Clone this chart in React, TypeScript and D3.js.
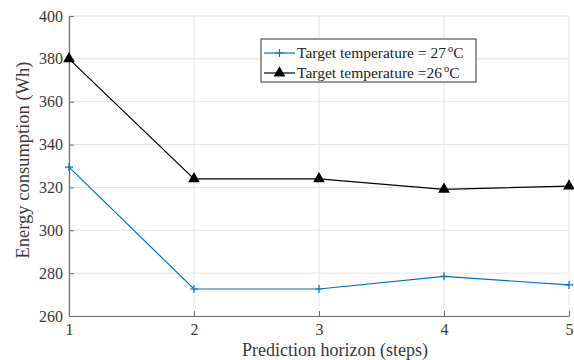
import { useEffect, useRef } from 'react';
import * as d3 from 'd3';

const horizons = [1, 2, 3, 4, 5];
const target27 = [329.5, 272.6, 272.6, 278.5, 274.5];
const target26 = [380, 324, 324, 319.1, 320.6];
const yTicks = [260, 280, 300, 320, 340, 360, 380, 400];

const FONT = 'Liberation Serif';

export default function App() {
  const svgRef = useRef<SVGSVGElement>(null);

  useEffect(() => {
    document.body.style.margin = '0';
    if (!svgRef.current) return;
    const svg = d3.select(svgRef.current);
    svg.selectAll('*').remove();

    const margin = { top: 16, right: 5, bottom: 44, left: 69 };
    const width = 574;
    const height = 360;
    const textColor = '#3a3a3a';

    const x = d3.scaleLinear().domain([1, 5]).range([margin.left, width - margin.right]);
    const y = d3.scaleLinear().domain([260, 400]).range([height - margin.bottom, margin.top]);

    svg.append('rect').attr('width', width).attr('height', height).attr('fill', '#fff');

    // grid
    const grid = svg.append('g').attr('stroke', '#e3e3e3').attr('stroke-width', 1);
    horizons.forEach((h) => {
      grid.append('line').attr('x1', x(h)).attr('x2', x(h)).attr('y1', y(260)).attr('y2', y(400));
    });
    yTicks.forEach((t) => {
      grid.append('line').attr('x1', x(1)).attr('x2', x(5)).attr('y1', y(t)).attr('y2', y(t));
    });

    // axes
    const yAxis = svg
      .append('g')
      .attr('transform', `translate(${x(1)},0)`)
      .call(d3.axisLeft(y).tickValues(yTicks).tickSize(-5).tickPadding(6).tickSizeOuter(0));
    const xAxis = svg
      .append('g')
      .attr('transform', `translate(0,${y(260)})`)
      .call(d3.axisBottom(x).tickValues(horizons).tickFormat(d3.format('d')).tickSize(-5).tickPadding(8).tickSizeOuter(0));
    [xAxis, yAxis].forEach((a) => {
      a.attr('font-family', null).attr('font-size', null);
      a.select('.domain').attr('stroke', '#707070').attr('stroke-width', 1.2);
      a.selectAll('.tick line').attr('stroke', '#707070');
      a.selectAll('.tick text').attr('fill', textColor).attr('font-family', FONT).attr('font-size', 16);
    });

    // axis titles
    svg
      .append('text')
      .attr('x', 335)
      .attr('y', 356)
      .attr('text-anchor', 'middle')
      .attr('fill', textColor)
      .attr('font-family', FONT)
      .attr('font-size', 18)
      .text('Prediction horizon (steps)');
    svg
      .append('text')
      .attr('transform', 'translate(29,160) rotate(-90)')
      .attr('text-anchor', 'middle')
      .attr('fill', textColor)
      .attr('font-family', FONT)
      .attr('font-size', 18.5)
      .text('Energy consumption (Wh)');

    const line = d3
      .line<number>()
      .x((_, i) => x(horizons[i]))
      .y((d) => y(d));

    // 27 C series
    svg.append('path').datum(target27).attr('fill', 'none').attr('stroke', '#0072BD').attr('stroke-width', 1.2).attr('d', line);
    target27.forEach((v, i) => {
      const cx = x(horizons[i]);
      const cy = y(v);
      svg
        .append('path')
        .attr('d', `M${cx - 4},${cy}H${cx + 4}M${cx},${cy - 4}V${cy + 4}`)
        .attr('stroke', '#0072BD')
        .attr('stroke-width', 1.2);
    });

    // 26 C series
    svg.append('path').datum(target26).attr('fill', 'none').attr('stroke', '#000').attr('stroke-width', 1.2).attr('d', line);
    const tri = d3.symbol().type(d3.symbolTriangle).size(60);
    target26.forEach((v, i) => {
      svg
        .append('path')
        .attr('d', tri)
        .attr('transform', `translate(${x(horizons[i])},${y(v)})`)
        .attr('fill', '#000');
    });

    // legend
    const lg = svg.append('g').attr('transform', 'translate(261,39)');
    lg.append('rect').attr('width', 215).attr('height', 43).attr('fill', '#fff').attr('stroke', '#333').attr('stroke-width', 1);
    const entries = [
      { label: 'Target temperature = 27', color: '#0072BD', marker: 'cross' },
      { label: 'Target temperature =26', color: '#000', marker: 'tri' },
    ];
    entries.forEach((e, i) => {
      const cy = 14 + i * 20;
      lg.append('line').attr('x1', 3).attr('x2', 34).attr('y1', cy).attr('y2', cy).attr('stroke', e.color).attr('stroke-width', 1.2);
      if (e.marker === 'cross') {
        lg.append('path')
          .attr('d', `M14.5,${cy}H22.5M18.5,${cy - 4}V${cy + 4}`)
          .attr('stroke', e.color)
          .attr('stroke-width', 1.2);
      } else {
        lg.append('path').attr('d', tri).attr('transform', `translate(18.5,${cy})`).attr('fill', e.color);
      }
      const t = lg
        .append('text')
        .attr('x', 36)
        .attr('y', cy + 5)
        .attr('fill', '#222')
        .attr('font-family', FONT)
        .attr('font-size', 15.5);
      t.append('tspan').text(e.label);
      t.append('tspan').attr('dx', 2).attr('dy', -6).attr('font-size', 10.5).text('o');
      t.append('tspan').attr('dy', 6).text('C');
    });
  }, []);

  return <svg ref={svgRef} width={574} height={360} style={{ display: 'block' }} />;
}
